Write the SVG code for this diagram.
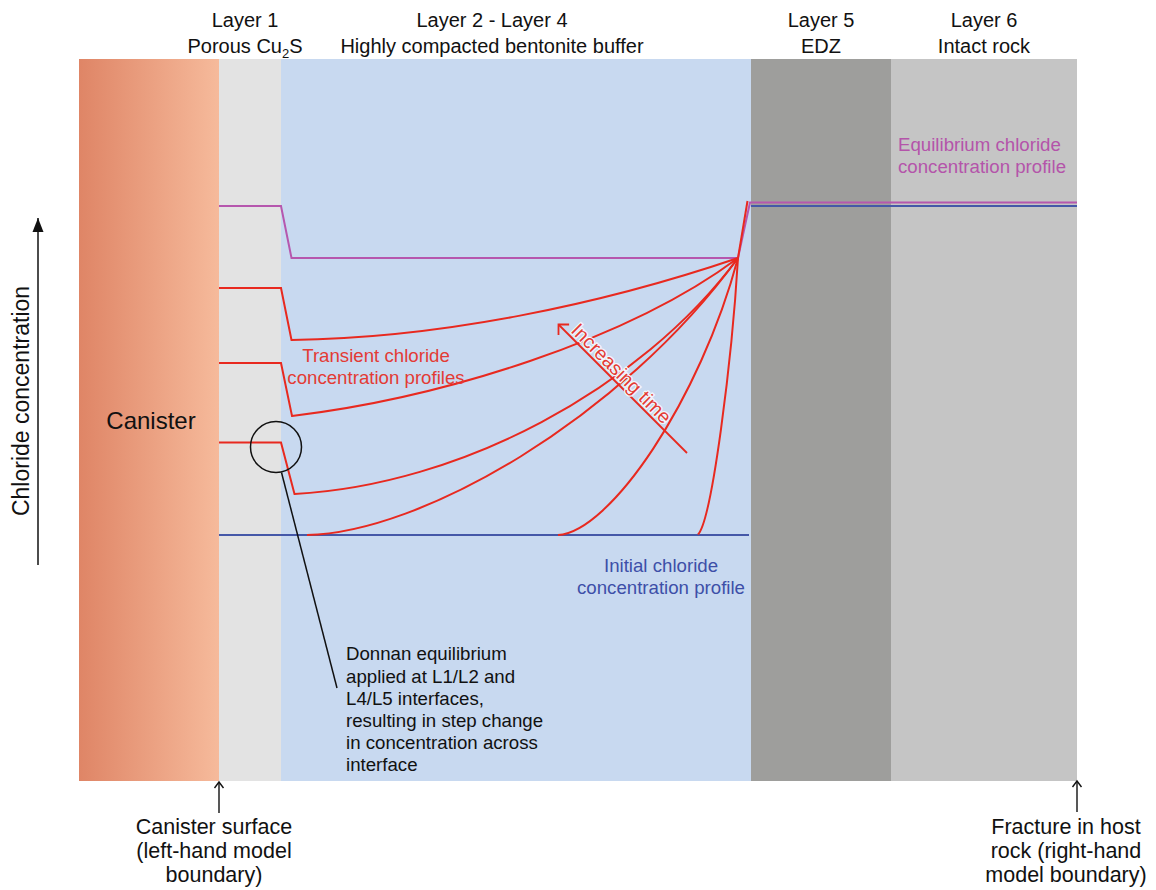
<svg xmlns="http://www.w3.org/2000/svg" width="1156" height="890" viewBox="0 0 1156 890">
<defs>
<linearGradient id="canGrad" x1="0" y1="0" x2="1" y2="0">
<stop offset="0" stop-color="#DF8566"/>
<stop offset="1" stop-color="#F6BA9B"/>
</linearGradient>
<marker id="chevRed" viewBox="-10 -10 20 20" markerWidth="20" markerHeight="20" refX="0" refY="0" orient="auto" markerUnits="userSpaceOnUse">
<path d="M-7.5,-7.5 L0,0 L-7.5,7.5" fill="none" stroke="#E8291F" stroke-width="1.8"/>
</marker>
<marker id="chevBlack" viewBox="-10 -10 20 20" markerWidth="20" markerHeight="20" refX="0" refY="0" orient="auto" markerUnits="userSpaceOnUse">
<path d="M-6,-4.5 L0,0 L-6,4.5" fill="none" stroke="#111" stroke-width="1.4"/>
</marker>
<marker id="triBlack" viewBox="-16 -8 18 16" markerWidth="18" markerHeight="16" refX="0" refY="0" orient="auto" markerUnits="userSpaceOnUse">
<path d="M-14,-5.5 L0,0 L-14,5.5 Z" fill="#111"/>
</marker>
</defs>
<style>
text { font-family: "Liberation Sans", Arial, sans-serif; }
.hdr { font-size: 20px; fill: #111; text-anchor: middle; }
.lbl { font-size: 21.5px; fill: #111; text-anchor: middle; }
.note { font-size: 18.67px; fill: #111; }
.redt { font-size: 18.67px; fill: #E33B35; }
.bluet { font-size: 18.67px; fill: #3D4FA8; text-anchor: middle; }
.purt { font-size: 18.67px; fill: #B454AA; }
.redl { fill: none; stroke: #E8291F; stroke-width: 2; }
.purl { fill: none; stroke: #B657AE; stroke-width: 2; }
.bluel { fill: none; stroke: #4558A8; stroke-width: 2; }
.blk { fill: none; stroke: #111; stroke-width: 1.5; }
</style>
<rect x="0" y="0" width="1156" height="890" fill="#fff"/>

<g id="canister">
<rect x="79" y="59" width="140" height="722" fill="url(#canGrad)"/>
<text x="151" y="429" style="font-size:24px;fill:#111;text-anchor:middle">Canister</text>
</g>
<g id="layer1">
<rect x="219" y="59" width="62" height="722" fill="#E3E3E3"/>
<text class="hdr" x="245" y="27">Layer 1</text>
<text class="hdr" x="245" y="53">Porous Cu<tspan style="font-size:13px" dy="5">2</tspan><tspan dy="-5">S</tspan></text>
</g>
<g id="layer2-4">
<rect x="281" y="59" width="470" height="722" fill="#C8D9F0"/>
<text class="hdr" x="492" y="27">Layer 2 - Layer 4</text>
<text class="hdr" x="492" y="53">Highly compacted bentonite buffer</text>
</g>
<g id="layer5">
<rect x="751" y="59" width="140" height="722" fill="#9E9E9C"/>
<text class="hdr" x="821" y="27">Layer 5</text>
<text class="hdr" x="821" y="53">EDZ</text>
</g>
<g id="layer6">
<rect x="891" y="59" width="186" height="722" fill="#C5C5C5"/>
<text class="hdr" x="984" y="27">Layer 6</text>
<text class="hdr" x="984" y="53">Intact rock</text>
</g>

<g id="axis">
<line x1="38" y1="565" x2="38" y2="218" stroke="#111" stroke-width="1.5" marker-end="url(#triBlack)"/>
<text transform="translate(29,401) rotate(-90)" style="font-size:23px;fill:#111;text-anchor:middle">Chloride concentration</text>
</g>

<g id="connectors">
<path class="bluel" d="M219,535 L749,535"/>
<path class="bluel" d="M751,206 L1077,206"/>
<path class="purl" d="M219,206 L281,206 L291.5,258 L738,258 L750,202.5 L1077,202.5"/>
<path class="redl" d="M219,288 L281,288 L291.5,340 C440,338 600,305 738,258"/>
<path class="redl" d="M219,363 L281,363 L292,416 C442,398 628,340 738,258"/>
<path class="redl" d="M219,442.5 L281,442.5 L294.5,494 C460,485 640,390 738,258"/>
<path class="redl" d="M307,535 C420,533 620,420 738,258"/>
<path class="redl" d="M558,535 C610,532 700,400 738,258"/>
<path class="redl" d="M698,534.5 C712,520 732,360 738,258"/>
<path class="redl" d="M738,258 L747.5,201"/>
<line x1="687" y1="453" x2="558.5" y2="324.5" stroke="#E8291F" stroke-width="1.8" marker-end="url(#chevRed)"/>
<circle class="blk" cx="276" cy="447" r="25.5"/>
<line class="blk" x1="281.5" y1="472.5" x2="337" y2="688"/>
<line x1="219" y1="813" x2="219" y2="782" stroke="#111" stroke-width="1.4" marker-end="url(#chevBlack)"/>
<line x1="1077" y1="812" x2="1077" y2="781" stroke="#111" stroke-width="1.4" marker-end="url(#chevBlack)"/>
</g>

<g id="label-increasing-time">
<text class="redt" transform="translate(621,374) rotate(45)" y="6" text-anchor="middle" stroke="#F2F6FC" stroke-width="2.5" paint-order="stroke" style="font-size:19.5px">Increasing time</text>
</g>
<g id="label-transient">
<text class="redt" text-anchor="middle" x="376" y="362">Transient chloride</text>
<text class="redt" text-anchor="middle" x="376" y="384">concentration profiles</text>
</g>
<g id="label-initial">
<text class="bluet" x="661" y="572">Initial chloride</text>
<text class="bluet" x="661" y="594">concentration profile</text>
</g>
<g id="label-equilibrium">
<text class="purt" x="898" y="151">Equilibrium chloride</text>
<text class="purt" x="898" y="173">concentration profile</text>
</g>
<g id="label-donnan">
<text class="note" x="346" y="660">Donnan equilibrium</text>
<text class="note" x="346" y="682.5">applied at L1/L2 and</text>
<text class="note" x="346" y="704.5">L4/L5 interfaces,</text>
<text class="note" x="346" y="727">resulting in step change</text>
<text class="note" x="346" y="749">in concentration across</text>
<text class="note" x="346" y="771">interface</text>
</g>
<g id="label-canister-surface">
<text class="lbl" x="214" y="834">Canister surface</text>
<text class="lbl" x="214" y="858">(left-hand model</text>
<text class="lbl" x="214" y="882">boundary)</text>
</g>
<g id="label-fracture">
<text class="lbl" x="1066" y="834">Fracture in host</text>
<text class="lbl" x="1066" y="858">rock (right-hand</text>
<text class="lbl" x="1066" y="882">model boundary)</text>
</g>
</svg>
